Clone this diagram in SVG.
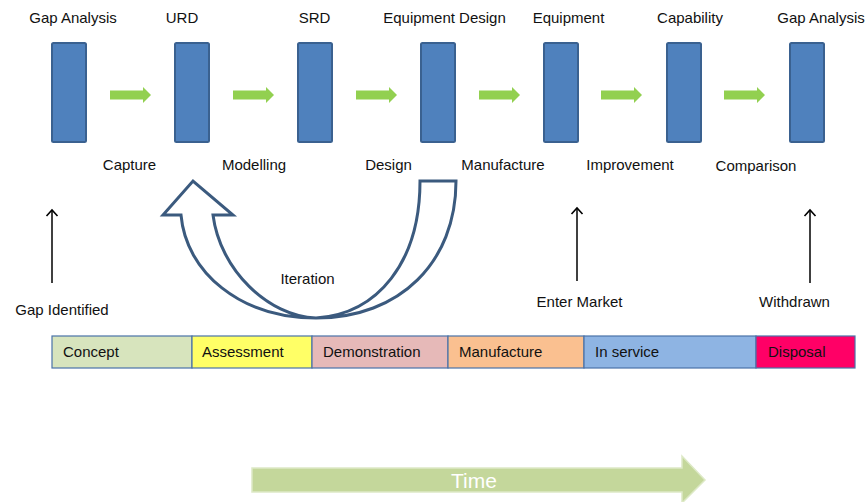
<svg xmlns="http://www.w3.org/2000/svg" width="866" height="502" viewBox="0 0 866 502">
  <defs>
    <style>
      text { font-family: "Liberation Sans", Arial, sans-serif; font-size: 15px; fill: #111; }
      .mid { text-anchor: middle; }
      .stage { fill: #4f81bd; stroke: #3a6190; stroke-width: 2; }
      .step { fill: #92d050; }
      .phase { stroke: #4a72a8; stroke-width: 1.2; }
      .event { stroke: #000; stroke-width: 1.5; fill: none; marker-end: url(#openHead); }
    </style>
    <marker id="openHead" viewBox="-8 -7 10 14" refX="0" refY="0" markerWidth="10" markerHeight="14" markerUnits="userSpaceOnUse" orient="auto">
      <path d="M-6,-5.5 L0,0 L-6,5.5" fill="none" stroke="#000" stroke-width="1.6"/>
    </marker>
    <path id="stepArrow" d="M0,-4.5 H33 V-8 L41,0 L33,8 V4.5 H0 Z"/>
  </defs>

  <rect width="866" height="502" fill="#ffffff"/>

  <!-- document stages -->
  <g id="stage-gap-analysis-1">
    <rect class="stage" x="52" y="43" width="34" height="99" rx="1.5"/>
    <text class="mid" x="73" y="23">Gap Analysis</text>
  </g>
  <g id="stage-urd">
    <rect class="stage" x="175" y="43" width="34" height="99" rx="1.5"/>
    <text class="mid" x="182" y="23">URD</text>
  </g>
  <g id="stage-srd">
    <rect class="stage" x="298" y="43" width="34" height="99" rx="1.5"/>
    <text class="mid" x="314.5" y="23">SRD</text>
  </g>
  <g id="stage-equipment-design">
    <rect class="stage" x="421" y="43" width="34" height="99" rx="1.5"/>
    <text class="mid" x="444.5" y="23">Equipment Design</text>
  </g>
  <g id="stage-equipment">
    <rect class="stage" x="544" y="43" width="34" height="99" rx="1.5"/>
    <text class="mid" x="568.5" y="23">Equipment</text>
  </g>
  <g id="stage-capability">
    <rect class="stage" x="667" y="43" width="34" height="99" rx="1.5"/>
    <text class="mid" x="690" y="23">Capability</text>
  </g>
  <g id="stage-gap-analysis-2">
    <rect class="stage" x="790" y="43" width="34" height="99" rx="1.5"/>
    <text class="mid" x="821" y="23">Gap Analysis</text>
  </g>

  <!-- connectors between stages -->
  <g id="connectors">
    <use href="#stepArrow" class="step" x="110" y="95"/>
    <use href="#stepArrow" class="step" x="233" y="95"/>
    <use href="#stepArrow" class="step" x="356" y="95"/>
    <use href="#stepArrow" class="step" x="479" y="95"/>
    <use href="#stepArrow" class="step" x="601" y="95"/>
    <use href="#stepArrow" class="step" x="724" y="95"/>
    <text class="mid" x="129.5" y="170">Capture</text>
    <text class="mid" x="254" y="170">Modelling</text>
    <text class="mid" x="388.5" y="170">Design</text>
    <text class="mid" x="503" y="170">Manufacture</text>
    <text class="mid" x="630" y="170">Improvement</text>
    <text class="mid" x="756" y="171">Comparison</text>

    <!-- iteration loop back from design to modelling -->
    <path d="M420,181 H456 C456,262 400,318 316,318 C240,318 186,272 181,215 H163 L193,181 L233,215 H213 C220,270 268,316 316,318 C378,314 420,262 420,181 Z" fill="#ffffff" stroke="#3b5a7e" stroke-width="3" stroke-linejoin="miter"/>
    <text class="mid" x="307.5" y="284">Iteration</text>

    <!-- lifecycle events -->
    <line class="event" x1="52" y1="283" x2="52" y2="210"/>
    <line class="event" x1="577" y1="281" x2="577" y2="208"/>
    <line class="event" x1="810" y1="283" x2="810" y2="210"/>
  </g>

  <g id="event-gap-identified">
    <text class="mid" x="62" y="315">Gap Identified</text>
  </g>
  <g id="event-enter-market">
    <text class="mid" x="579.5" y="307">Enter Market</text>
  </g>
  <g id="event-withdrawn">
    <text class="mid" x="794.5" y="307">Withdrawn</text>
  </g>

  <!-- CADMID phase bar -->
  <g id="phase-concept">
    <rect class="phase" x="52" y="336" width="140" height="32" fill="#d7e4bd"/>
    <text x="63" y="357">Concept</text>
  </g>
  <g id="phase-assessment">
    <rect class="phase" x="192" y="336" width="120" height="32" fill="#ffff66"/>
    <text x="202" y="357">Assessment</text>
  </g>
  <g id="phase-demonstration">
    <rect class="phase" x="312" y="336" width="136" height="32" fill="#e6b9b8"/>
    <text x="323" y="357">Demonstration</text>
  </g>
  <g id="phase-manufacture">
    <rect class="phase" x="448" y="336" width="136" height="32" fill="#fac090"/>
    <text x="459" y="357">Manufacture</text>
  </g>
  <g id="phase-in-service">
    <rect class="phase" x="584" y="336" width="172" height="32" fill="#8eb4e3"/>
    <text x="595" y="357">In service</text>
  </g>
  <g id="phase-disposal">
    <rect class="phase" x="756" y="336" width="99" height="32" fill="#ff0066"/>
    <text x="768" y="357">Disposal</text>
  </g>

  <!-- time axis -->
  <g id="time-axis">
    <path d="M252,468 H682 V456 L705,480 L682,503 V492 H252 Z" fill="#c4d79b" stroke="#dde9c6" stroke-width="1.5"/>
    <text class="mid" x="474" y="488" style="font-size:21px; fill:#ffffff">Time</text>
  </g>
</svg>
